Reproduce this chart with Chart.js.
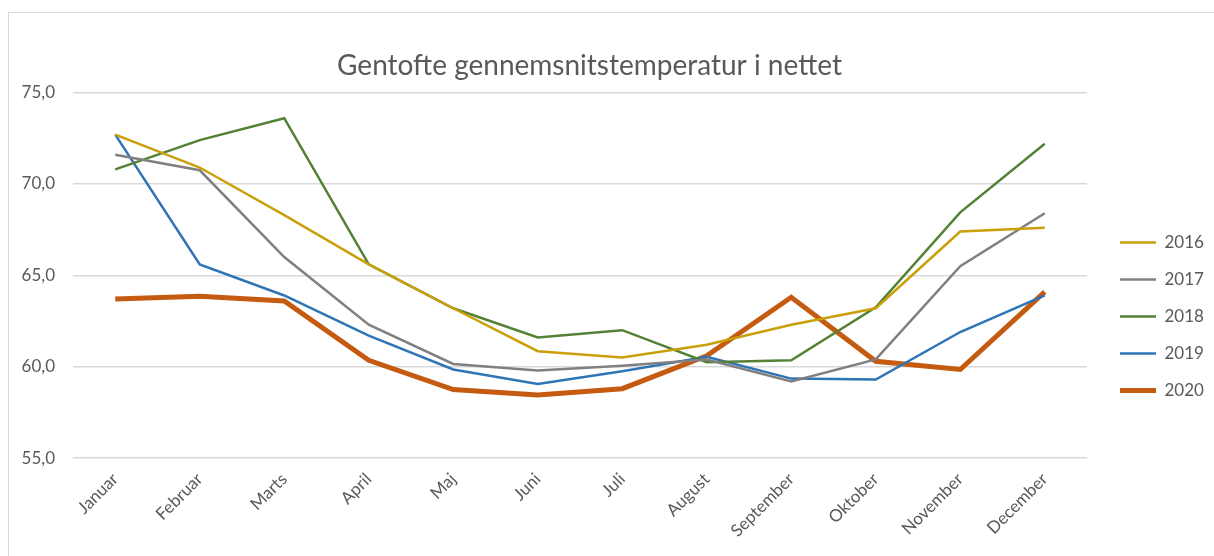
<!DOCTYPE html>
<html>
<head>
<meta charset="utf-8">
<script src="https://cdn.jsdelivr.net/npm/chart.js@4/dist/chart.umd.min.js"></script>
<style>
  body { margin: 0; background: #fff; }
  #box { position: absolute; left: 8px; top: 12px; width: 1220px; height: 560px; border: 1px solid #d9d9d9; }
  #wrap { position: absolute; left: 0; top: 0; width: 1205px; height: 543px; }
</style>
</head>
<body>
<div id="box"><div id="wrap"><canvas id="myChart"></canvas></div></div>
<script>
// maaneder og aarsserier
var maaneder = ['Januar', 'Februar', 'Marts', 'April', 'Maj', 'Juni', 'Juli', 'August', 'September', 'Oktober', 'November', 'December'];
var aar = ['2016', '2017', '2018', '2019', '2020'];
var t2016 = [72.7, 70.9, 68.3, 65.6, 63.2, 60.85, 60.5, 61.2, 62.3, 63.2, 67.4, 67.6];
var t2017 = [71.6, 70.75, 66.0, 62.3, 60.15, 59.8, 60.05, 60.4, 59.2, 60.4, 65.5, 68.4];
var t2018 = [70.8, 72.4, 73.6, 65.6, 63.2, 61.6, 62.0, 60.25, 60.35, 63.25, 68.45, 72.2];
var t2019 = [72.7, 65.6, 63.9, 61.7, 59.85, 59.05, 59.75, 60.55, 59.35, 59.3, 61.9, 63.9];
var t2020 = [63.7, 63.85, 63.6, 60.35, 58.75, 58.45, 58.8, 60.6, 63.8, 60.3, 59.85, 64.1];
var yTicks = [55, 60, 65, 70, 75];

var serier = [t2016, t2017, t2018, t2019, t2020];
var farver = ['#c9a00a', '#808080', '#548235', '#2e75b6', '#c55a11'];
var bredder = [2.5, 2.5, 2.5, 2.5, 5];

var datasets = [];
for (var i = 0; i < aar.length; i++) {
    datasets.push({
        label: aar[i],
        data: serier[i],
        borderColor: farver[i],
        backgroundColor: farver[i],
        borderWidth: bredder[i],
        pointRadius: 0,
        tension: 0,
        fill: false
    });
}

// legenden: lidt bredere og flyttet ned/til hoejre ligesom i Excel, titlen lidt til venstre
var layoutFix = {
    id: 'layoutFix',
    beforeLayout: function(chart) {
        var lg = chart.legend;
        if (lg && !lg._fixed) {
            var fit = lg.fit;
            lg.fit = function() { fit.call(this); this.width = 127; };
            lg._fixed = true;
        }
    },
    afterLayout: function(chart) {
        var lg = chart.legend;
        lg.left += 13; lg.right += 13;
        lg.top += 38; lg.bottom += 38;
        chart.titleBlock.left -= 22;
        chart.titleBlock.right -= 22;
    }
};

var ctx = document.getElementById('myChart').getContext('2d');
var lineChart = new Chart(ctx, {
    type: 'line',
    data: { labels: maaneder, datasets: datasets },
    plugins: [layoutFix],
    options: {
        responsive: true,
        maintainAspectRatio: false,
        animation: false,
        layout: { padding: { left: 0, right: 0, top: 0, bottom: 12 } },
        plugins: {
            title: {
                display: true,
                text: 'Gentofte gennemsnitstemperatur i nettet',
                color: '#595959',
                font: { family: 'Lato', size: 28, weight: 'normal' },
                padding: { top: 36, bottom: 10 }
            },
            legend: {
                position: 'right',
                align: 'center',
                labels: {
                    usePointStyle: true,
                    pointStyle: 'line',
                    pointStyleWidth: 36,
                    color: '#595959',
                    font: { family: 'Lato', size: 17 },
                    padding: 20
                }
            },
            tooltip: { enabled: false }
        },
        scales: {
            x: {
                offset: true,
                grid: { display: false },
                border: { display: false },
                ticks: {
                    color: '#595959',
                    font: { family: 'Lato', size: 17 },
                    minRotation: 45,
                    maxRotation: 45,
                    autoSkip: false
                }
            },
            y: {
                min: 55,
                max: 75,
                afterBuildTicks: function(axis) {
                    axis.ticks = yTicks.map(function(v) { return { value: v }; });
                },
                afterFit: function(axis) { axis.width = 64; },
                grid: { color: '#d9d9d9', lineWidth: 1.5, drawTicks: false },
                border: { display: false },
                ticks: {
                    color: '#595959',
                    font: { family: 'Lato', size: 17 },
                    padding: 18,
                    callback: function(v) { return v.toFixed(1).replace('.', ','); }
                }
            }
        }
    }
});
</script>
</body>
</html>
